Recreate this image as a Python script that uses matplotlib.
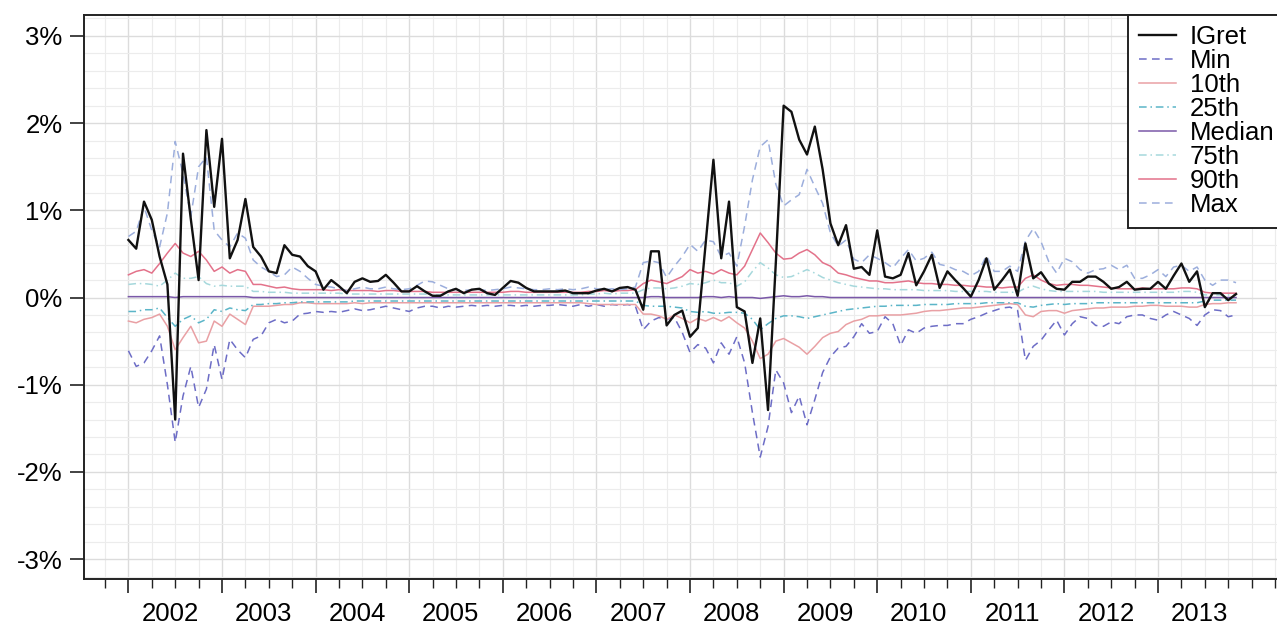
import numpy as np
import pandas as pd
import matplotlib
matplotlib.use("Agg")
import matplotlib.pyplot as plt
from matplotlib.ticker import FixedLocator, FuncFormatter

# monthly observations, Jan 2002 - Nov 2013 (values in %)
dates = pd.date_range("2002-01-01", periods=143, freq="MS")

igret = [
    0.66, 0.56, 1.10, 0.89, 0.47, 0.15, -1.40, 1.65, 0.90, 0.20, 1.92, 1.04,
    1.82, 0.45, 0.66, 1.13, 0.58, 0.47, 0.30, 0.28, 0.60, 0.49, 0.47, 0.36,
    0.30, 0.09, 0.20, 0.13, 0.05, 0.18, 0.22, 0.18, 0.19, 0.26, 0.17, 0.07,
    0.07, 0.13, 0.07, 0.02, 0.02, 0.07, 0.10, 0.05, 0.09, 0.10, 0.05, 0.03,
    0.11, 0.19, 0.17, 0.11, 0.07, 0.07, 0.07, 0.07, 0.08, 0.05, 0.05, 0.05,
    0.08, 0.10, 0.07, 0.11, 0.12, 0.09, -0.14, 0.53, 0.53, -0.32, -0.20, -0.15,
    -0.45, -0.35, 0.62, 1.58, 0.45, 1.10, -0.11, -0.16, -0.75, -0.24, -1.29, 0.40,
    2.20, 2.13, 1.81, 1.64, 1.96, 1.47, 0.85, 0.60, 0.83, 0.33, 0.35, 0.26,
    0.77, 0.24, 0.22, 0.26, 0.51, 0.14, 0.30, 0.49, 0.11, 0.30, 0.20, 0.11,
    0.01, 0.20, 0.45, 0.09, 0.20, 0.32, 0.02, 0.62, 0.22, 0.29, 0.16, 0.10,
    0.09, 0.18, 0.18, 0.24, 0.24, 0.18, 0.10, 0.12, 0.18, 0.09, 0.10, 0.10,
    0.18, 0.10, 0.25, 0.39, 0.18, 0.30, -0.11, 0.05, 0.05, -0.03, 0.04,
]

p_min = [
    -0.61, -0.79, -0.75, -0.61, -0.44, -1.00, -1.66, -1.13, -0.79, -1.26, -1.05, -0.54,
    -0.94, -0.48, -0.60, -0.69, -0.48, -0.44, -0.29, -0.25, -0.29, -0.27, -0.19, -0.18,
    -0.16, -0.17, -0.16, -0.17, -0.15, -0.13, -0.15, -0.14, -0.12, -0.10, -0.12, -0.14,
    -0.16, -0.12, -0.10, -0.10, -0.12, -0.10, -0.11, -0.10, -0.09, -0.10, -0.09, -0.10,
    -0.09, -0.09, -0.10, -0.09, -0.10, -0.09, -0.09, -0.08, -0.09, -0.10, -0.08, -0.10,
    -0.08, -0.10, -0.08, -0.09, -0.08, -0.10, -0.37, -0.27, -0.23, -0.25, -0.23, -0.40,
    -0.63, -0.54, -0.58, -0.75, -0.52, -0.65, -0.45, -0.75, -1.32, -1.83, -1.48, -0.83,
    -0.98, -1.32, -1.13, -1.46, -1.17, -0.86, -0.68, -0.58, -0.56, -0.45, -0.30, -0.41,
    -0.39, -0.22, -0.30, -0.55, -0.37, -0.41, -0.35, -0.33, -0.32, -0.32, -0.30, -0.30,
    -0.25, -0.22, -0.18, -0.15, -0.12, -0.11, -0.15, -0.72, -0.56, -0.49, -0.37, -0.26,
    -0.43, -0.30, -0.22, -0.24, -0.32, -0.33, -0.28, -0.30, -0.22, -0.20, -0.20, -0.24,
    -0.26, -0.20, -0.16, -0.20, -0.24, -0.32, -0.20, -0.14, -0.15, -0.22, -0.20,
]

p10 = [
    -0.27, -0.29, -0.25, -0.23, -0.19, -0.33, -0.60, -0.46, -0.33, -0.52, -0.50, -0.27,
    -0.33, -0.19, -0.25, -0.31, -0.10, -0.10, -0.10, -0.09, -0.08, -0.08, -0.06, -0.06,
    -0.07, -0.07, -0.07, -0.07, -0.07, -0.06, -0.07, -0.06, -0.06, -0.06, -0.06, -0.06,
    -0.06, -0.06, -0.06, -0.06, -0.06, -0.06, -0.06, -0.06, -0.06, -0.06, -0.06, -0.06,
    -0.06, -0.06, -0.06, -0.06, -0.06, -0.06, -0.06, -0.06, -0.06, -0.06, -0.06, -0.07,
    -0.08, -0.08, -0.08, -0.08, -0.08, -0.08, -0.19, -0.19, -0.21, -0.25, -0.20, -0.24,
    -0.29, -0.24, -0.27, -0.23, -0.27, -0.22, -0.29, -0.35, -0.50, -0.70, -0.65, -0.50,
    -0.47, -0.52, -0.57, -0.65, -0.56, -0.46, -0.41, -0.39, -0.31, -0.27, -0.25, -0.21,
    -0.21, -0.20, -0.20, -0.20, -0.19, -0.18, -0.16, -0.15, -0.15, -0.14, -0.13, -0.12,
    -0.12, -0.11, -0.10, -0.09, -0.08, -0.07, -0.08, -0.20, -0.22, -0.16, -0.15, -0.15,
    -0.18, -0.15, -0.14, -0.13, -0.12, -0.12, -0.11, -0.11, -0.11, -0.10, -0.10, -0.09,
    -0.09, -0.10, -0.10, -0.10, -0.11, -0.11, -0.08, -0.07, -0.07, -0.06, -0.06,
]

p25 = [
    -0.16, -0.16, -0.14, -0.14, -0.12, -0.23, -0.33, -0.25, -0.21, -0.29, -0.25, -0.14,
    -0.16, -0.12, -0.14, -0.15, -0.08, -0.08, -0.07, -0.07, -0.06, -0.06, -0.05, -0.05,
    -0.05, -0.05, -0.05, -0.05, -0.05, -0.04, -0.04, -0.04, -0.04, -0.04, -0.04, -0.04,
    -0.04, -0.04, -0.04, -0.04, -0.04, -0.04, -0.04, -0.04, -0.04, -0.04, -0.04, -0.04,
    -0.04, -0.04, -0.04, -0.04, -0.04, -0.04, -0.04, -0.04, -0.04, -0.04, -0.04, -0.04,
    -0.04, -0.04, -0.04, -0.04, -0.04, -0.04, -0.09, -0.10, -0.10, -0.10, -0.11, -0.12,
    -0.16, -0.17, -0.16, -0.18, -0.18, -0.17, -0.17, -0.18, -0.25, -0.37, -0.30, -0.24,
    -0.21, -0.21, -0.22, -0.24, -0.22, -0.20, -0.18, -0.16, -0.14, -0.13, -0.12, -0.11,
    -0.10, -0.10, -0.09, -0.09, -0.09, -0.09, -0.08, -0.08, -0.08, -0.08, -0.07, -0.07,
    -0.07, -0.07, -0.06, -0.06, -0.06, -0.06, -0.06, -0.10, -0.11, -0.09, -0.08, -0.07,
    -0.08, -0.07, -0.07, -0.07, -0.06, -0.06, -0.06, -0.06, -0.06, -0.06, -0.06, -0.06,
    -0.06, -0.06, -0.06, -0.06, -0.06, -0.06, -0.04, -0.03, -0.03, -0.03, -0.03,
]

p50 = [
    0.01, 0.01, 0.01, 0.01, 0.01, 0.01, 0.00, 0.01, 0.01, 0.01, 0.01, 0.01,
    0.01, 0.01, 0.01, 0.01, 0.00, 0.00, 0.00, 0.00, 0.00, 0.00, 0.00, 0.00,
    0.00, 0.00, 0.00, 0.00, 0.00, 0.00, 0.00, 0.00, 0.00, 0.00, 0.00, 0.00,
    0.00, 0.00, 0.00, 0.00, 0.00, 0.00, 0.00, 0.00, 0.00, 0.00, 0.00, 0.00,
    0.00, 0.00, 0.00, 0.00, 0.00, 0.00, 0.00, 0.00, 0.00, 0.00, 0.00, 0.00,
    0.00, 0.00, 0.00, 0.00, 0.00, 0.00, 0.00, 0.01, 0.01, 0.00, 0.00, 0.00,
    0.00, 0.00, 0.01, 0.01, 0.00, 0.01, 0.00, 0.00, 0.00, -0.01, 0.00, 0.01,
    0.02, 0.01, 0.01, 0.02, 0.01, 0.01, 0.00, 0.00, 0.00, 0.00, 0.00, 0.00,
    0.00, 0.00, 0.00, 0.00, 0.00, 0.00, 0.00, 0.00, 0.00, 0.00, 0.00, 0.00,
    0.00, 0.00, 0.00, 0.00, 0.00, 0.00, 0.00, 0.00, 0.00, 0.00, 0.00, 0.00,
    0.00, 0.00, 0.00, 0.00, 0.00, 0.00, 0.00, 0.00, 0.00, 0.00, 0.00, 0.00,
    0.00, 0.00, 0.00, 0.00, 0.00, 0.00, 0.00, 0.00, 0.00, 0.00, 0.00,
]

p75 = [
    0.15, 0.16, 0.16, 0.15, 0.13, 0.20, 0.28, 0.22, 0.22, 0.24, 0.16, 0.13,
    0.14, 0.13, 0.13, 0.13, 0.07, 0.07, 0.06, 0.06, 0.06, 0.05, 0.05, 0.05,
    0.05, 0.05, 0.05, 0.05, 0.04, 0.04, 0.04, 0.04, 0.04, 0.04, 0.04, 0.04,
    0.04, 0.04, 0.04, 0.03, 0.03, 0.03, 0.03, 0.03, 0.03, 0.03, 0.03, 0.03,
    0.03, 0.03, 0.03, 0.03, 0.03, 0.03, 0.03, 0.03, 0.03, 0.03, 0.03, 0.04,
    0.04, 0.05, 0.04, 0.05, 0.05, 0.05, 0.09, 0.11, 0.11, 0.10, 0.11, 0.13,
    0.16, 0.15, 0.17, 0.20, 0.17, 0.17, 0.13, 0.18, 0.30, 0.40, 0.34, 0.26,
    0.23, 0.24, 0.28, 0.32, 0.28, 0.23, 0.20, 0.17, 0.15, 0.13, 0.12, 0.11,
    0.10, 0.10, 0.09, 0.09, 0.09, 0.09, 0.08, 0.08, 0.08, 0.08, 0.07, 0.07,
    0.07, 0.07, 0.07, 0.06, 0.06, 0.06, 0.06, 0.11, 0.13, 0.10, 0.08, 0.07,
    0.07, 0.07, 0.07, 0.07, 0.07, 0.06, 0.06, 0.06, 0.06, 0.06, 0.06, 0.06,
    0.06, 0.06, 0.06, 0.07, 0.07, 0.06, 0.03, 0.03, 0.03, 0.03, 0.03,
]

p90 = [
    0.26, 0.30, 0.32, 0.28, 0.39, 0.51, 0.62, 0.51, 0.47, 0.53, 0.43, 0.30,
    0.35, 0.28, 0.32, 0.30, 0.15, 0.15, 0.13, 0.11, 0.12, 0.10, 0.09, 0.09,
    0.09, 0.09, 0.08, 0.09, 0.08, 0.08, 0.08, 0.08, 0.07, 0.08, 0.08, 0.07,
    0.07, 0.07, 0.07, 0.06, 0.06, 0.06, 0.06, 0.06, 0.06, 0.06, 0.06, 0.06,
    0.06, 0.07, 0.07, 0.06, 0.06, 0.06, 0.06, 0.06, 0.06, 0.06, 0.06, 0.07,
    0.07, 0.08, 0.07, 0.08, 0.08, 0.09, 0.16, 0.20, 0.18, 0.16, 0.20, 0.24,
    0.32, 0.28, 0.30, 0.27, 0.32, 0.28, 0.26, 0.36, 0.55, 0.74, 0.63, 0.51,
    0.44, 0.45, 0.51, 0.55, 0.49, 0.40, 0.36, 0.28, 0.26, 0.23, 0.21, 0.19,
    0.19, 0.17, 0.17, 0.18, 0.19, 0.17, 0.16, 0.16, 0.15, 0.15, 0.14, 0.14,
    0.13, 0.13, 0.12, 0.12, 0.11, 0.12, 0.12, 0.22, 0.26, 0.20, 0.16, 0.14,
    0.15, 0.15, 0.14, 0.14, 0.13, 0.12, 0.11, 0.10, 0.10, 0.10, 0.11, 0.10,
    0.10, 0.10, 0.10, 0.11, 0.11, 0.10, 0.06, 0.05, 0.05, 0.05, 0.05,
]

p_max = [
    0.70, 0.76, 1.04, 0.77, 0.58, 0.97, 1.79, 1.42, 0.93, 1.50, 1.61, 0.77,
    0.66, 0.58, 0.74, 0.68, 0.43, 0.35, 0.30, 0.24, 0.26, 0.35, 0.30, 0.22,
    0.15, 0.13, 0.12, 0.10, 0.08, 0.10, 0.12, 0.10, 0.10, 0.12, 0.10, 0.09,
    0.10, 0.14, 0.19, 0.18, 0.14, 0.10, 0.09, 0.08, 0.09, 0.09, 0.08, 0.09,
    0.10, 0.12, 0.11, 0.10, 0.09, 0.09, 0.10, 0.09, 0.10, 0.09, 0.10, 0.12,
    0.10, 0.09, 0.10, 0.09, 0.10, 0.12, 0.40, 0.42, 0.40, 0.23, 0.36, 0.47,
    0.61, 0.53, 0.66, 0.64, 0.47, 0.51, 0.36, 0.82, 1.35, 1.73, 1.81, 1.30,
    1.05, 1.12, 1.18, 1.47, 1.27, 1.08, 0.74, 0.59, 0.66, 0.44, 0.40, 0.49,
    0.45, 0.40, 0.34, 0.45, 0.55, 0.42, 0.45, 0.52, 0.38, 0.36, 0.32, 0.30,
    0.25, 0.30, 0.48, 0.30, 0.30, 0.36, 0.30, 0.65, 0.79, 0.64, 0.41, 0.28,
    0.45, 0.41, 0.32, 0.28, 0.32, 0.33, 0.37, 0.32, 0.37, 0.22, 0.22, 0.26,
    0.32, 0.24, 0.35, 0.37, 0.30, 0.35, 0.20, 0.14, 0.20, 0.20, 0.17,
]

year_ticks = list(range(2002, 2014))
y_ticks = [-3, -2, -1, 0, 1, 2, 3]

plt.rcParams["font.family"] = ["Liberation Sans", "DejaVu Sans"]
FS = 18.5

x = dates.year + (dates.month - 1) / 12.0

fig = plt.figure(figsize=(12.77, 6.28), dpi=100)
ax = fig.add_axes([84 / 1277, 49 / 628, 1196 / 1277, 564 / 628])

series = [
    ("IGret", igret, "#111111", "-", 1.7),
    ("Min", p_min, "#6d6dc6", (0, (5, 3.5)), 1.1),
    ("10th", p10, "#e9a0a4", "-", 1.1),
    ("25th", p25, "#5bb5c8", (0, (5, 2.5, 1, 2.5)), 1.1),
    ("Median", p50, "#7a58a8", "-", 1.1),
    ("75th", p75, "#a6d8dc", (0, (5, 2.5, 1, 2.5)), 1.1),
    ("90th", p90, "#e3728a", "-", 1.1),
    ("Max", p_max, "#9caedc", (0, (5, 3.5)), 1.1),
]
for name, vals, col, ls, lw in series:
    z = 3 if name == "IGret" else 2
    ax.plot(x, vals, color=col, linestyle=ls, linewidth=lw, label=name, zorder=z)

ax.set_xlim(2001.5256, 2014.303)
ax.set_ylim(-3.228, 3.240)

# year ticks (unlabelled) and quarter ticks on the main axis
ax.xaxis.set_major_locator(FixedLocator(year_ticks))
ax.xaxis.set_minor_locator(FixedLocator([y + q / 4 for y in range(2001, 2015) for q in range(4)]))
ax.tick_params(axis="x", which="both", labelbottom=False)
ax.tick_params(axis="x", which="major", direction="out", length=10, width=1.2, color="#222222")
ax.tick_params(axis="x", which="minor", direction="out", length=6.5, width=1.0, color="#222222")

# year labels sit inside each year span
sec = ax.secondary_xaxis("bottom")
sec.set_xticks([y + 0.445 for y in year_ticks], labels=[str(y) for y in year_ticks])
sec.tick_params(axis="x", length=0, pad=16.5, labelsize=FS)
sec.spines["bottom"].set_visible(False)

ax.yaxis.set_major_locator(FixedLocator(y_ticks))
ax.yaxis.set_minor_locator(FixedLocator(np.round(np.arange(-3.2, 3.21, 0.2), 1)))
ax.yaxis.set_major_formatter(FuncFormatter(lambda v, p: "%d%%" % v))
ax.tick_params(axis="y", which="major", direction="out", length=10, width=1.2, pad=5.5,
               labelsize=FS, color="#222222")
ax.tick_params(axis="y", which="minor", length=0)

ax.grid(which="major", color="#dcdcdc", linewidth=1.0, zorder=0)
ax.grid(which="minor", color="#ececec", linewidth=0.8, zorder=0)
ax.set_axisbelow(True)

for sp in ax.spines.values():
    sp.set_color("#222222")
    sp.set_linewidth(1.4)

leg = ax.legend(loc="upper right", bbox_to_anchor=(1.0042, 1.0), fontsize=FS,
                frameon=True, fancybox=False, framealpha=1, edgecolor="#222222",
                borderpad=0.4, borderaxespad=0, labelspacing=0.0,
                handlelength=1.45, handletextpad=0.55)
leg.get_frame().set_linewidth(1.4)

fig.savefig("out.png", dpi=100)
